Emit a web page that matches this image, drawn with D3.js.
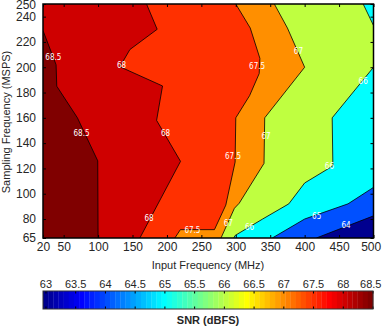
<!DOCTYPE html>
<html><head><meta charset="utf-8">
<script src="https://cdn.jsdelivr.net/npm/d3@7"></script>
<style>html,body{margin:0;padding:0;background:#fff;} svg{display:block;font-family:"Liberation Sans",Arial,Helvetica,sans-serif;}</style>
</head><body><svg id="c" width="382" height="326"></svg>
<script>
// ---- Data: SNR (dBFS) contour isolines, points as [input frequency MHz, sampling frequency MSPS]
const levels = [64, 65, 66, 67, 67.5, 68, 68.5];
const iso64  = [[417,65],[500,82.5]];
const iso65  = [[353,65],[400,80],[463,92],[500,105]];
const iso66  = [[297,65],[299,67],[339,80],[377,92],[400,108.5],[441,122],[440,160],[500,200],[500,233],[485,250]];
const iso67  = [[278.5,65],[298,88.5],[305,92.5],[341,124],[342,160],[400,200],[375,231],[356,250]];
const iso675 = [[211.5,65],[219.5,71.6],[269,71.6],[285.5,91],[299,125],[300,160],[320,177.5],[334,195],[335,207],[321,231],[300,250]];
const iso68  = [[160.7,65],[219.7,125.6],[185,158],[193.6,185.2],[131.7,200.4],[146.2,214],[185.8,230],[170.4,250]];
const iso685 = [[100,65],[99.5,126],[70,160],[40,185],[39,202],[20,229]];
const isolines = [iso64, iso65, iso66, iso67, iso675, iso68, iso685];

// contour labels
const labelLevel = [68.5, 68.5, 68, 68, 68, 67.5, 67.5, 67.5, 67, 67, 67, 66, 66, 66, 65, 64];
const labelFin   = [35, 76, 134, 198, 174, 331, 296, 237, 391, 344, 289, 485, 436, 320, 417.5, 460];
const labelFs    = [208, 148, 202, 148, 80.6, 201, 130, 70.8, 212.3, 145.4, 76.9, 188.6, 121.7, 73.7, 82.6, 75.5];

const xTicks = [20, 50, 100, 150, 200, 250, 300, 350, 400, 450, 500];
const yTicks = [65, 80, 100, 120, 140, 160, 180, 200, 220, 240, 250];
const cbarTicks = [63, 63.5, 64, 64.5, 65, 65.5, 66, 66.5, 67, 67.5, 68, 68.5];
const colorLimits = [62.95, 68.5];

// ---- jet colormap (64 entries)
function jetMap(m){
  const n = Math.ceil(m/4);
  const u = [];
  for(let i=1;i<=n;i++) u.push(i/n);
  for(let i=0;i<n-1;i++) u.push(1);
  for(let i=n;i>=1;i--) u.push(i/n);
  const off = Math.ceil(n/2) - (m%4===1?1:0);
  const R=new Array(m).fill(0),G=new Array(m).fill(0),B=new Array(m).fill(0);
  u.forEach((v,k)=>{
    const g = off + k + 1, r = g + n, b = g - n;
    if(g>=1&&g<=m) G[g-1]=v;
    if(r>=1&&r<=m) R[r-1]=v;
    if(b>=1&&b<=m) B[b-1]=v;
  });
  return d3.range(m).map(i=>d3.rgb(Math.round(R[i]*255),Math.round(G[i]*255),Math.round(B[i]*255)).formatHex());
}
const cmap = jetMap(64);
function colorFor(v){
  const t = (v-colorLimits[0])/(colorLimits[1]-colorLimits[0]);
  const i = Math.max(0, Math.min(cmap.length-1, Math.floor(t*cmap.length)));
  return cmap[i];
}

const W = 382;
const svg = d3.select("#c");
const ink = "#262626";
const x = d3.scaleLinear().domain([20,500]).range([43,373.5]);
const y = d3.scaleLinear().domain([65,250]).range([238,4]);
const [xmin,xmax] = x.domain(), [ymin,ymax] = y.domain();

function keepInside(sel){
  sel.each(function(){
    const b = this.getBBox();
    const ctm = this.getCTM();
    const right = ctm.e + b.x + b.width;
    if(right > W - 0.5){
      const cur = +d3.select(this).attr("dx") || 0;
      d3.select(this).attr("dx", cur - (right - (W - 0.5)));
    }
  });
}

svg.append("defs").append("clipPath").attr("id","plotclip")
  .append("rect").attr("x",x(xmin)).attr("y",y(ymax)).attr("width",x(xmax)-x(xmin)).attr("height",y(ymin)-y(ymax));

const plot = svg.append("g").attr("clip-path","url(#plotclip)");
plot.append("rect").attr("x",x(xmin)).attr("y",y(ymax)).attr("width",x(xmax)-x(xmin)).attr("height",y(ymin)-y(ymax))
  .attr("fill", colorFor(63));

const line = d3.line().x(d=>x(d[0])).y(d=>y(d[1]));
levels.forEach((L,i)=>{
  const pts = isolines[i].slice();
  const last = pts[pts.length-1];
  if(last[0]===xmax && last[1]<ymax) pts.push([xmax,ymax]);
  pts.push([xmin,ymax],[xmin,ymin]);
  plot.append("path").attr("d", line(pts)+"Z").attr("fill", colorFor(L)).attr("stroke","none");
});
levels.forEach((L,i)=>{
  plot.append("path").attr("d", line(isolines[i])).attr("fill","none").attr("stroke","#000").attr("stroke-width",0.8);
});
labelLevel.forEach((L,i)=>{
  plot.append("text").attr("x",x(labelFin[i])).attr("y",y(labelFs[i])).attr("dy","0.35em")
    .attr("text-anchor","middle").attr("fill","#fff")
    .style("font-family",'"Liberation Sans Narrow","DejaVu Sans Condensed",sans-serif').style("font-size","8px")
    .text(d3.format("")(L));
});

// axes
const gx = svg.append("g").attr("transform",`translate(0,${y(ymin)})`)
  .call(d3.axisBottom(x).tickValues(xTicks).tickSize(-3).tickPadding(4).tickFormat(d3.format("d")));
const gxt = svg.append("g").attr("transform",`translate(0,${y(ymax)})`)
  .call(d3.axisTop(x).tickValues(xTicks).tickSize(-3).tickFormat(""));
const gy = svg.append("g").attr("transform",`translate(${x(xmin)},0)`)
  .call(d3.axisLeft(y).tickValues(yTicks).tickSize(-3).tickPadding(7).tickFormat(d3.format("d")));
const gyr = svg.append("g").attr("transform",`translate(${x(xmax)},0)`)
  .call(d3.axisRight(y).tickValues(yTicks).tickSize(-3).tickFormat(""));
[gx,gxt,gy,gyr].forEach(g=>{
  g.select(".domain").remove();
  g.selectAll(".tick line").attr("stroke","#000").attr("stroke-width",1);
  g.selectAll("text").attr("fill",ink).style("font-size","12px").style("font-family",'"Liberation Sans",Arial,sans-serif');
});
keepInside(gx.selectAll("text"));
gy.selectAll("text").filter(d=>d===ymax).attr("dy","0.4em");
svg.append("rect").attr("x",x(xmin)).attr("y",y(ymax)).attr("width",x(xmax)-x(xmin)).attr("height",y(ymin)-y(ymax))
  .attr("fill","none").attr("stroke","#000").attr("stroke-width",1.5);

svg.append("text").attr("x",208).attr("y",269).attr("text-anchor","middle").attr("fill",ink)
  .style("font-size","11px").text("Input Frequency (MHz)");
svg.append("text").attr("transform","translate(10,122) rotate(-90)").attr("text-anchor","middle").attr("fill",ink)
  .style("font-size","11px").text("Sampling Frequency (MSPS)");

// colorbar
const cb = d3.scaleLinear().domain(colorLimits).range([43,373]);
const cbY = 291, cbH = 18;
const nC = cmap.length, span = colorLimits[1]-colorLimits[0];
svg.append("g").selectAll("rect").data(cmap).join("rect")
  .attr("x",(d,i)=>cb(colorLimits[0]+i*span/nC)).attr("y",cbY)
  .attr("width",(d,i)=>cb(colorLimits[0]+(i+1)*span/nC)-cb(colorLimits[0]+i*span/nC)+0.3).attr("height",cbH)
  .attr("fill",d=>d);
const cbt = svg.append("g");
cbarTicks.forEach(t=>{
  cbt.append("line").attr("x1",cb(t)).attr("x2",cb(t)).attr("y1",cbY).attr("y2",cbY+2.5).attr("stroke","#000");
  cbt.append("line").attr("x1",cb(t)).attr("x2",cb(t)).attr("y1",cbY+cbH).attr("y2",cbY+cbH-2.5).attr("stroke","#000");
  cbt.append("text").attr("x",cb(t)).attr("y",288).attr("text-anchor","middle").attr("fill",ink)
    .style("font-size","11px").text(t);
});
keepInside(cbt.selectAll("text"));
svg.append("rect").attr("x",cb(colorLimits[0])).attr("y",cbY).attr("width",cb(colorLimits[1])-cb(colorLimits[0])).attr("height",cbH)
  .attr("fill","none").attr("stroke","#333").attr("stroke-width",1);
svg.append("text").attr("x",208).attr("y",324).attr("text-anchor","middle").attr("fill",ink)
  .style("font-size","11px").style("font-weight","bold").text("SNR (dBFS)");
</script></body></html>
